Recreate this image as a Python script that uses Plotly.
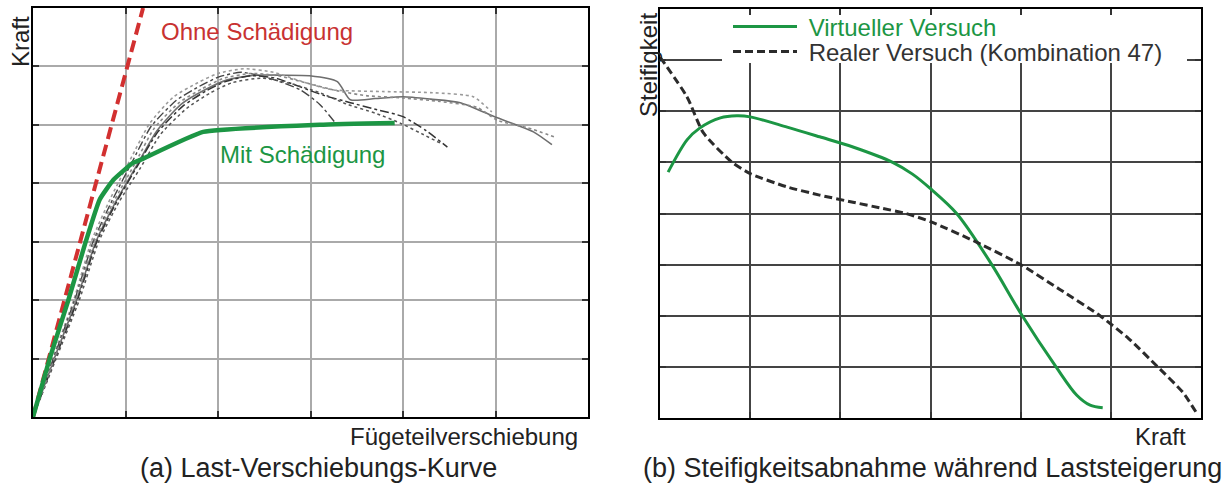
import plotly.graph_objects as go

# ---------------- data: (a) load-displacement ----------------
ohne_x = [0.0, 1.19]
ohne_y = [0.0, 7.0]

mit_x = [0.0, 0.18, 0.38, 0.57, 0.72, 0.87, 1.08, 1.16, 1.84, 3.10, 3.91]
mit_y = [0.0, 1.00, 1.99, 3.00, 3.72, 4.06, 4.35, 4.40, 4.88, 5.00, 5.03]

exp1_x = [0, 0.23, 0.47, 0.68, 0.90, 1.12, 1.34, 1.60, 1.86, 2.10, 2.40, 2.70, 2.99, 3.29, 3.43, 3.70, 4.00, 4.30, 4.62, 5.02, 5.41, 5.61]
exp1_y = [0, 1.00, 2.00, 3.00, 3.70, 4.30, 4.90, 5.35, 5.60, 5.77, 5.85, 5.85, 5.84, 5.74, 5.43, 5.45, 5.48, 5.44, 5.38, 5.12, 4.88, 4.66]

exp2_x = [0, 0.21, 0.44, 0.63, 0.84, 1.05, 1.26, 1.52, 1.78, 2.00, 2.28, 2.60, 2.95, 3.24, 3.78, 4.32, 4.76, 4.96]
exp2_y = [0, 1.00, 2.00, 3.00, 3.75, 4.40, 5.02, 5.48, 5.72, 5.88, 5.96, 5.90, 5.72, 5.60, 5.57, 5.55, 5.48, 5.22]

exp3_x = [0, 0.22, 0.45, 0.65, 0.86, 1.07, 1.28, 1.55, 1.80, 2.01, 2.25, 2.55, 2.89, 3.10, 3.26]
exp3_y = [0, 1.00, 2.00, 3.00, 3.72, 4.36, 4.98, 5.42, 5.66, 5.82, 5.90, 5.80, 5.60, 5.35, 5.05]

exp4_x = [0, 0.24, 0.48, 0.69, 0.91, 1.13, 1.35, 1.62, 1.87, 2.08, 2.35, 2.62, 2.89, 3.15, 3.43, 3.72, 4.00, 4.25, 4.48]
exp4_y = [0, 1.00, 2.00, 3.00, 3.70, 4.30, 4.88, 5.32, 5.58, 5.74, 5.84, 5.80, 5.65, 5.50, 5.38, 5.26, 5.14, 4.90, 4.62]

exp5_x = [0, 0.25, 0.50, 0.71, 0.93, 1.16, 1.38, 1.66, 1.92, 2.15, 2.48, 2.80, 3.10, 3.40, 3.70, 3.97, 4.20, 4.40]
exp5_y = [0, 1.00, 2.00, 3.00, 3.68, 4.26, 4.84, 5.28, 5.55, 5.72, 5.80, 5.70, 5.55, 5.35, 5.20, 5.03, 4.85, 4.69]

exp6_x = [0, 0.23, 0.46, 0.66, 0.88, 1.10, 1.31, 1.58, 1.83, 2.05, 2.35, 2.65, 2.95, 3.30, 3.60, 4.00, 4.40, 4.80, 5.02, 5.35, 5.66]
exp6_y = [0, 1.00, 2.00, 3.00, 3.71, 4.33, 4.94, 5.38, 5.62, 5.79, 5.88, 5.84, 5.72, 5.58, 5.50, 5.46, 5.40, 5.30, 5.08, 4.95, 4.78]

# ---------------- data: (b) stiffness vs. force ----------------
virt_x = [0.09, 0.30, 0.44, 0.67, 0.85, 1.00, 1.41, 1.77, 2.14, 2.58, 2.80, 2.99, 3.29, 3.68, 4.00, 4.40, 4.62, 4.77, 4.91]
virt_y = [4.81, 5.44, 5.67, 5.87, 5.91, 5.89, 5.69, 5.50, 5.30, 5.00, 4.77, 4.50, 4.00, 3.00, 2.05, 0.98, 0.45, 0.25, 0.20]

real_x = [0.00, 0.30, 0.48, 0.80, 1.00, 1.41, 1.77, 2.14, 2.44, 2.73, 3.00, 3.51, 4.00, 4.43, 4.88, 5.20, 5.52, 5.80, 5.95]
real_y = [7.06, 6.28, 5.58, 5.00, 4.78, 4.52, 4.36, 4.22, 4.11, 4.00, 3.84, 3.44, 3.00, 2.52, 2.00, 1.55, 1.00, 0.50, 0.10]

# ---------------- layout helpers ----------------
W, H = 1231, 491
FONT = "Liberation Sans, Arial, sans-serif"
GREEN = "rgb(28,150,68)"
RED = "rgb(210,48,48)"
NBSP = "\u00a0"


def fx(p):
    return p / W


def fy(p):
    return 1 - p / H


fig = go.Figure()

# experimental curves (a)
exp_styles = [
    (exp1_x, exp1_y, "#6e6e6e", "solid", 1.6),
    (exp2_x, exp2_y, "#9a9a9a", "dot", 1.6),
    (exp3_x, exp3_y, "#444444", "dashdot", 1.4),
    (exp4_x, exp4_y, "#333333", "dashdot", 1.5),
    (exp5_x, exp5_y, "#555555", "dot", 1.5),
    (exp6_x, exp6_y, "#888888", "dot", 1.6),
]
for ex, ey, col, dash, w in exp_styles:
    fig.add_trace(go.Scatter(x=ex, y=ey, mode="lines", xaxis="x", yaxis="y",
                             line=dict(color=col, width=w, dash=dash, shape="spline", smoothing=0.6),
                             showlegend=False, hoverinfo="skip"))

fig.add_trace(go.Scatter(x=ohne_x, y=ohne_y, mode="lines", xaxis="x", yaxis="y",
                         line=dict(color=RED, width=4, dash="12px,6px"),
                         showlegend=False))
fig.add_trace(go.Scatter(x=mit_x, y=mit_y, mode="lines", xaxis="x", yaxis="y",
                         line=dict(color=GREEN, width=4.5, shape="spline", smoothing=0.4),
                         showlegend=False))

# stiffness curves (b)
fig.add_trace(go.Scatter(x=virt_x, y=virt_y, mode="lines", xaxis="x2", yaxis="y2",
                         name=NBSP + "Virtueller Versuch", legend="legend",
                         line=dict(color=GREEN, width=3, shape="spline", smoothing=0.9)))
fig.add_trace(go.Scatter(x=real_x, y=real_y, mode="lines", xaxis="x2", yaxis="y2",
                         name=NBSP + "Realer Versuch (Kombination 47)", legend="legend2",
                         line=dict(color="#2b2b2b", width=3, dash="8px,4px", shape="spline", smoothing=0.6)))

axis_common = dict(showticklabels=False, ticks="inside", ticklen=6, dtick=1, tick0=0,
                   showline=True, mirror="ticks", linecolor="black", zeroline=False)

fig.update_layout(
    width=W, height=H,
    margin=dict(l=0, r=0, t=0, b=0),
    paper_bgcolor="white", plot_bgcolor="white",
    font=dict(family=FONT, size=24, color="#222"),
    xaxis=dict(domain=[fx(33), fx(588)], range=[0, 6], anchor="y",
               gridcolor="#aaaaaa", gridwidth=1.5, linewidth=2, tickcolor="#333", tickwidth=1.5,
               **axis_common),
    yaxis=dict(domain=[fy(417), fy(8)], range=[0, 7], anchor="x",
               gridcolor="#aaaaaa", gridwidth=1.5, linewidth=2, tickcolor="#333", tickwidth=1.5,
               **axis_common),
    xaxis2=dict(domain=[fx(660), fx(1201)], range=[0, 6], anchor="y2",
                gridcolor="#444444", gridwidth=1.6, linewidth=2.2, tickcolor="#333", tickwidth=1.6,
                **axis_common),
    yaxis2=dict(domain=[fy(418), fy(9)], range=[0, 8], anchor="x2",
                gridcolor="#444444", gridwidth=1.6, linewidth=2.2, tickcolor="#333", tickwidth=1.6,
                **axis_common),
    legend=dict(x=fx(728), y=fy(27), xanchor="left", yanchor="middle",
                bgcolor="rgba(0,0,0,0)", borderwidth=0, itemwidth=64,
                font=dict(family=FONT, size=24, color=GREEN)),
    legend2=dict(x=fx(728), y=fy(52), xanchor="left", yanchor="middle",
                 bgcolor="rgba(0,0,0,0)", borderwidth=0, itemwidth=64,
                 font=dict(family=FONT, size=24, color="#333333")),
    showlegend=True,
)

# white backing behind the legend of panel (b)
fig.add_shape(type="rect", xref="paper", yref="paper",
              x0=fx(722), x1=fx(1187), y0=fy(63), y1=fy(15),
              fillcolor="white", line=dict(width=0), layer="above")

# curve labels in (a)
fig.add_annotation(x=2.42, y=6.59, xref="x", yref="y", text="Ohne Schädigung",
                   xanchor="center", yanchor="middle",
                   showarrow=False, font=dict(family=FONT, size=24, color="rgb(200,50,50)"))
fig.add_annotation(x=2.91, y=4.49, xref="x", yref="y", text="Mit Schädigung",
                   xanchor="center", yanchor="middle",
                   showarrow=False, font=dict(family=FONT, size=24, color=GREEN))


def label(x, y, text, size=24, angle=0, xanchor="center"):
    fig.add_annotation(x=x, y=y, xref="paper", yref="paper", text=text, textangle=angle,
                       xanchor=xanchor, yanchor="middle", showarrow=False,
                       font=dict(family=FONT, size=size, color="#222"))


# axis names
label(fx(20), fy(41), "Kraft", angle=-90)
label(fx(580), fy(436), "Fügeteilverschiebung", xanchor="right")
label(fx(648), fy(65), "Steifigkeit", angle=-90)
label(fx(1188), fy(436), "Kraft", xanchor="right")

# sub-figure captions
label(fx(318), fy(468), "(a) Last-Verschiebungs-Kurve", size=27)
label(fx(932), fy(468), "(b) Steifigkeitsabnahme während Laststeigerung", size=27)

fig.write_html("out.html")
